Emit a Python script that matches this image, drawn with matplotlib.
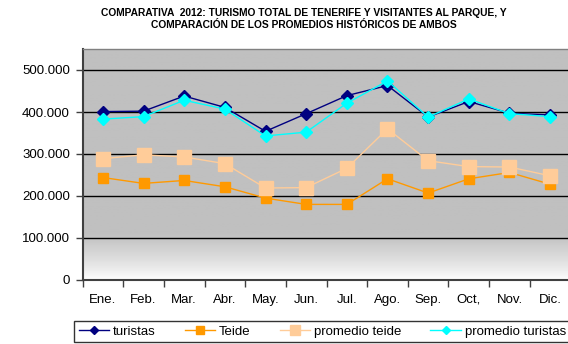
import numpy as np
import matplotlib.pyplot as plt
from matplotlib.ticker import FuncFormatter

plt.rcParams['font.family'] = ['Liberation Sans', 'DejaVu Sans']

meses = ['Ene.', 'Feb.', 'Mar.', 'Abr.', 'May.', 'Jun.', 'Jul.', 'Ago.', 'Sep.', 'Oct,', 'Nov.', 'Dic.']
turistas = [401000, 402000, 438000, 411000, 354000, 396000, 439000, 463000, 388000, 425000, 397000, 393000]
teide = [244000, 230000, 237000, 222000, 195000, 180000, 180000, 241000, 207000, 241000, 256000, 228000]
promedio_teide = [289000, 298000, 293000, 277000, 219000, 220000, 266000, 360000, 284000, 270000, 269000, 248000]
promedio_turistas = [383000, 389000, 428000, 407000, 343000, 352000, 421000, 474000, 388000, 431000, 396000, 389000]

fig = plt.figure(figsize=(5.68, 3.44), dpi=100)
ax = fig.add_axes([82.5 / 568, 1 - 280 / 344, (570.5 - 82.5) / 568, (280 - 49) / 344])

x = np.arange(len(meses))
ax.set_xlim(-0.5, len(meses) - 0.5)
ax.set_ylim(0, 550000)

# grey fill fading to white near the bottom of the plot area
grad = np.ones((256, 1))
t = np.linspace(0, 1, 256)
fade = 0.20
grad[:, 0] = np.where(t < fade, 1 - (1 - 0.753) * (t / fade) ** 0.8, 0.753)
ax.imshow(grad, extent=[0, 1, 0, 1], transform=ax.transAxes, origin='lower',
          cmap='gray', vmin=0, vmax=1, aspect='auto', zorder=0)

for v in range(100000, 600000, 100000):
    ax.axhline(v, color='black', lw=1, zorder=1)

ax.plot(x, turistas, color='#000080', marker='D', ms=6, lw=1, label='turistas', zorder=3)
ax.plot(x, teide, color='#FF9900', marker='s', ms=7.5, lw=1, label='Teide', zorder=3)
ax.plot(x, promedio_teide, color='#FFCC99', marker='s', ms=9.5, lw=1, label='promedio teide', zorder=3)
ax.plot(x, promedio_turistas, color='#00FFFF', marker='D', ms=6, lw=1, label='promedio turistas', zorder=4)

ax.yaxis.set_major_formatter(FuncFormatter(lambda v, p: '0' if v == 0 else f'{int(v):,}'.replace(',', '.')))
ax.set_yticks(range(0, 600000, 100000))
ax.set_xticks(x)
ax.set_xticklabels(meses)
ax.set_xticks(np.arange(-0.5, len(meses)), minor=True)
ax.tick_params(axis='x', which='major', length=0, pad=10, labelsize=9.5)
ax.tick_params(axis='x', which='minor', length=5, width=1, color='#404040')
ax.tick_params(axis='y', length=5, width=1, color='#404040', labelsize=9.5, pad=4)

for s in ['left', 'bottom']:
    ax.spines[s].set_color('#404040')
    ax.spines[s].set_linewidth(1.5)
for s in ['top', 'right']:
    ax.spines[s].set_color('#808080')
    ax.spines[s].set_linewidth(1)

fig.text(0.535, 0.978, 'COMPARATIVA  2012: TURISMO TOTAL DE TENERIFE Y VISITANTES AL PARQUE, Y\n'
         'COMPARACIÓN DE LOS PROMEDIOS HISTÓRICOS DE AMBOS',
         ha='center', va='top', fontsize=7.4, fontweight='bold', linespacing=1.3)

leg = fig.legend(loc='upper left', bbox_to_anchor=(74 / 568, 1 - 321 / 344), ncol=4,
                 fontsize=9.5, frameon=True, fancybox=False, edgecolor='black',
                 borderaxespad=0, handlelength=2.3, columnspacing=2.2, handletextpad=0.3,
                 borderpad=0.35, markerscale=0.75)
leg.get_frame().set_linewidth(1)

fig.savefig('out.png', dpi=100)
